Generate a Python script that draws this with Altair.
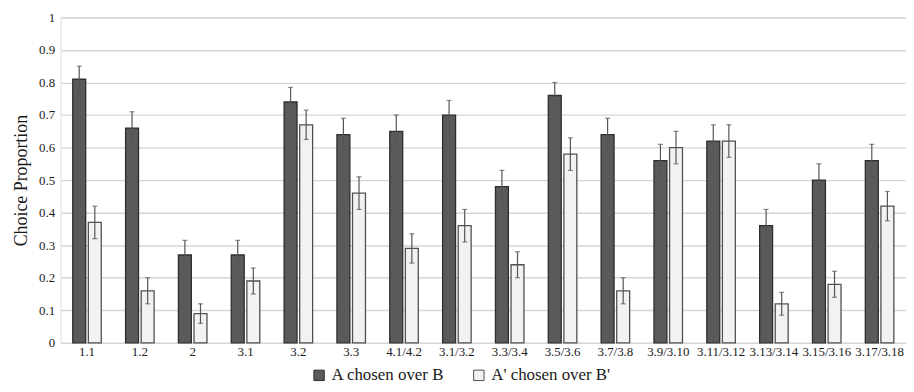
import altair as alt
import pandas as pd

categories = ["1.1", "1.2", "2", "3.1", "3.2", "3.3", "4.1/4.2", "3.1/3.2", "3.3/3.4",
              "3.5/3.6", "3.7/3.8", "3.9/3.10", "3.11/3.12", "3.13/3.14", "3.15/3.16", "3.17/3.18"]
series_names = ["A chosen over B", "A' chosen over B'"]
a_values = [0.81, 0.66, 0.27, 0.27, 0.74, 0.64, 0.65, 0.70, 0.48, 0.76, 0.64, 0.56, 0.62, 0.36, 0.50, 0.56]
a_errors = [0.04, 0.05, 0.045, 0.045, 0.045, 0.05, 0.05, 0.045, 0.05, 0.04, 0.05, 0.05, 0.05, 0.05, 0.05, 0.05]
b_values = [0.37, 0.16, 0.09, 0.19, 0.67, 0.46, 0.29, 0.36, 0.24, 0.58, 0.16, 0.60, 0.62, 0.12, 0.18, 0.42]
b_errors = [0.05, 0.04, 0.03, 0.04, 0.045, 0.05, 0.045, 0.05, 0.04, 0.05, 0.04, 0.05, 0.05, 0.035, 0.04, 0.045]
y_ticks = [0, 0.1, 0.2, 0.3, 0.4, 0.5, 0.6, 0.7, 0.8, 0.9, 1]

rows = []
for s, vals, errs in [(series_names[0], a_values, a_errors), (series_names[1], b_values, b_errors)]:
    for c, v, e in zip(categories, vals, errs):
        rows.append({"cat": c, "series": s, "value": v, "lo": v - e, "hi": v + e})
df = pd.DataFrame(rows)

serif = "Liberation Serif"

x_enc = alt.X("cat:N", sort=categories, title=None,
              scale=alt.Scale(paddingInner=0.46, paddingOuter=0.23),
              axis=alt.Axis(labelAngle=0, ticks=False, domain=False, labelPadding=3,
                            labelFont=serif, labelFontSize=13, labelColor="#1a1a1a"))
xo = alt.XOffset("series:N", sort=series_names, scale=alt.Scale(paddingInner=0.17))

y_scale = alt.Scale(domain=[0, 1], nice=False)
y_axis = alt.Axis(values=y_ticks, format="~g", ticks=False, domain=False, tickCount=11,
                  labelPadding=6, labelFont=serif, labelFontSize=13, labelColor="#1a1a1a",
                  labelOverlap=False,
                  titleFont=serif, titleFontSize=18, titleFontWeight="normal",
                  titleColor="#1a1a1a", titlePadding=8,
                  gridColor="#d6d6d6", gridWidth=1.5)

base = alt.Chart(df)

bars = base.mark_bar(strokeWidth=1.3).encode(
    x=x_enc,
    xOffset=xo,
    y=alt.Y("value:Q", scale=y_scale, title="Choice Proportion", axis=y_axis),
    color=alt.Color("series:N", sort=series_names,
                    scale=alt.Scale(domain=series_names, range=["#5a5a5a", "#f2f2f2"]),
                    legend=alt.Legend(title=None, orient="none", direction="horizontal",
                                      legendX=252, legendY=352,
                                      symbolType="square", symbolSize=110,
                                      symbolStrokeColor="#333", symbolStrokeWidth=1,
                                      labelFont=serif, labelFontSize=17, labelColor="#1a1a1a",
                                      labelOffset=4, columnPadding=26)),
    stroke=alt.Stroke("series:N", sort=series_names,
                      scale=alt.Scale(domain=series_names, range=["#2e2e2e", "#505050"]),
                      legend=None),
)

rules = base.mark_rule(color="#555555", strokeWidth=1.2).encode(
    x=alt.X("cat:N", sort=categories), xOffset=xo,
    y=alt.Y("lo:Q", scale=y_scale, title="Choice Proportion", axis=y_axis), y2="hi:Q")

caps_hi = base.mark_tick(color="#555555", size=5, thickness=1.2).encode(
    x=alt.X("cat:N", sort=categories), xOffset=xo,
    y=alt.Y("hi:Q", scale=y_scale, title="Choice Proportion", axis=y_axis))
caps_lo = base.mark_tick(color="#555555", size=5, thickness=1.2).encode(
    x=alt.X("cat:N", sort=categories), xOffset=xo,
    y=alt.Y("lo:Q", scale=y_scale, title="Choice Proportion", axis=y_axis))

chart = alt.layer(bars, rules, caps_hi, caps_lo).properties(
    width=852, height=328,
    autosize=alt.AutoSizeParams(type="none"),
    padding={"left": 53, "top": 8, "right": 0, "bottom": 40},
).configure_view(stroke=None).configure(background="white")

chart.save("out.html", embed_options={"renderer": "svg", "actions": False})
